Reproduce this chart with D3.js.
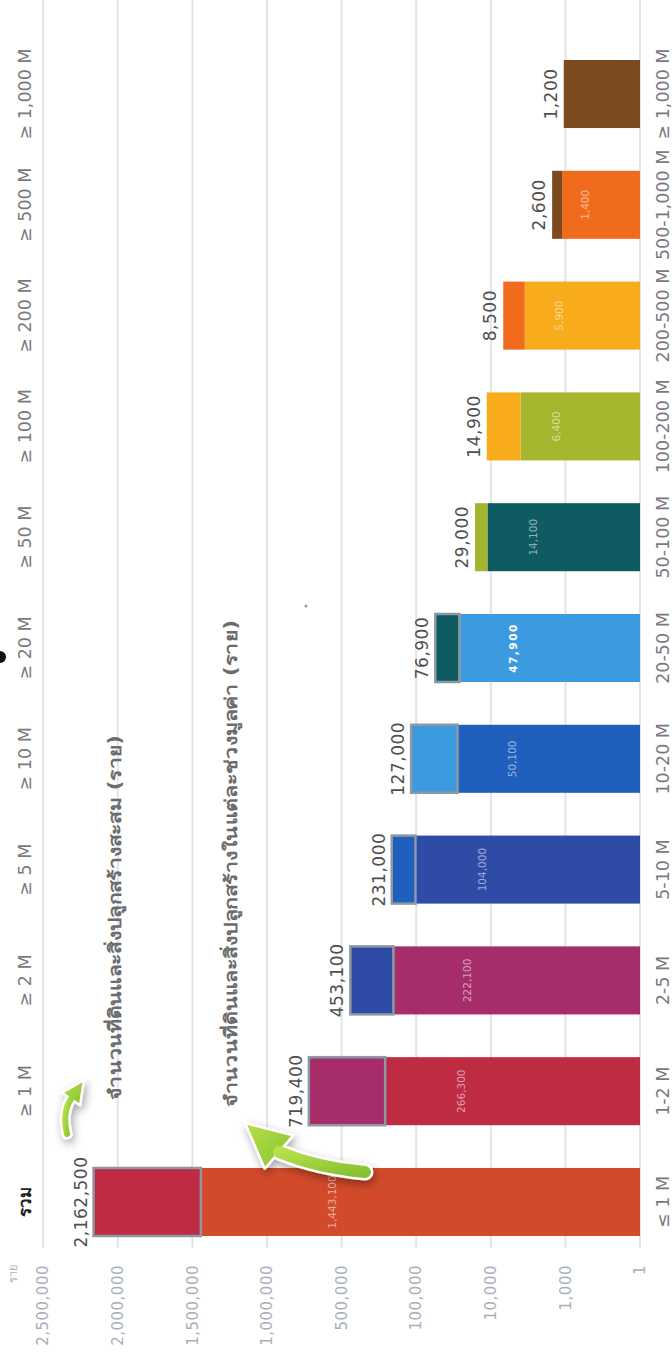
<!DOCTYPE html>
<html>
<head>
<meta charset="utf-8">
<script src="https://cdn.jsdelivr.net/npm/d3@7/dist/d3.min.js"></script>
<style>
  body { margin: 0; background: #fff; }
  svg { display: block; font-family: "DejaVu Sans", "Noto Sans", sans-serif; }
</style>
</head>
<body>
<svg id="chart"></svg>
<script>
// Land & buildings by value band - drawn as a landscape chart, then turned on its side

const cumLabels = ['รวม', '≥ 1 M', '≥ 2 M', '≥ 5 M', '≥ 10 M', '≥ 20 M', '≥ 50 M', '≥ 100 M', '≥ 200 M', '≥ 500 M', '≥ 1,000 M'];
const rangeLabels = ['≤ 1 M', '1-2 M', '2-5 M', '5-10 M', '10-20 M', '20-50 M', '50-100 M', '100-200 M', '200-500 M', '500-1,000 M', '≥ 1,000 M'];
const rangeCounts = [1443100, 266300, 222100, 104000, 50100, 47900, 14100, 6400, 5900, 1400, 1200];
const cumTotals = [2162500, 719400, 453100, 231000, 127000, 76900, 29000, 14900, 8500, 2600, 1200];
const bandColors = ['#d24a2a', '#be2b43', '#a62d6a', '#2e4ba6', '#1f60be', '#3c9be0', '#0e5c61', '#a6b52e', '#f8ac1b', '#f06b1d', '#7b4a1f'];
const tickValues = [1, 1000, 10000, 100000, 500000, 1000000, 1500000, 2000000, 2500000];
const tickLabels = ['1', '1,000', '10,000', '100,000', '500,000', '1,000,000', '1,500,000', '2,000,000', '2,500,000'];
const unitLabel = 'ราย';
const noteCum = 'จำนวนที่ดินและสิ่งปลูกสร้างสะสม (ราย)';
const noteRange = 'จำนวนที่ดินและสิ่งปลูกสร้างในแต่ละช่วงมูลค่า (ราย)';

const W = 672, H = 1372;          // page
const IW = H, IH = W;             // inner (landscape) frame

const svg = d3.select('#chart').attr('width', W).attr('height', H);

// the chart is built landscape and rotated so text reads bottom-to-top
const g = svg.append('g').attr('transform', `translate(0,${H}) rotate(-90)`);

const x = d3.scaleBand()
    .domain(rangeLabels)
    .range([136, 1312])
    .paddingInner(0.386)
    .paddingOuter(0);

// piecewise axis: ticks evenly spaced
const y = d3.scaleLinear()
    .domain(tickValues)
    .range(tickValues.map((d, i) => 640 - i * 74.6));

const fmt = d3.format(',');

const rows = rangeLabels.map((r, i) => ({
    range: r,
    cum: cumLabels[i],
    count: rangeCounts[i],
    total: cumTotals[i],
    color: bandColors[i],
    topColor: i < bandColors.length - 1 ? bandColors[i + 1] : null,
    i: i
}));

// gridlines
g.append('g')
    .selectAll('line')
    .data(tickValues)
    .join('line')
    .attr('x1', 124)
    .attr('x2', IW)
    .attr('y1', d => y(d))
    .attr('y2', d => y(d))
    .attr('stroke', '#e4e4e8')
    .attr('stroke-width', 2);

// tick labels
g.append('g')
    .selectAll('text')
    .data(tickValues)
    .join('text')
    .attr('x', 107)
    .attr('y', d => y(d))
    .attr('dy', '0.35em')
    .attr('text-anchor', 'end')
    .attr('font-size', 15)
    .attr('letter-spacing', 0.5)
    .attr('fill', '#a9aeb8')
    .text((d, i) => tickLabels[i]);

g.append('text')
    .attr('x', 107)
    .attr('y', 13)
    .attr('dy', '0.35em')
    .attr('text-anchor', 'end')
    .attr('font-size', 11)
    .attr('fill', '#a9aeb8')
    .text(unitLabel);

// bars
const bar = g.append('g')
    .selectAll('g')
    .data(rows)
    .join('g');

bar.append('rect')
    .attr('x', d => x(d.range))
    .attr('width', x.bandwidth())
    .attr('y', d => y(d.count))
    .attr('height', d => y(1) - y(d.count))
    .attr('fill', d => d.color);

bar.filter(d => d.topColor)
    .append('rect')
    .attr('x', d => x(d.range))
    .attr('width', x.bandwidth())
    .attr('y', d => y(d.total))
    .attr('height', d => y(d.count) - y(d.total))
    .attr('fill', d => d.topColor)
    .attr('stroke', d => d.total - d.count >= 20000 ? '#8e98a3' : 'none')
    .attr('stroke-width', 2.5);

// value inside the band segment
bar.filter(d => d.topColor)
    .append('text')
    .attr('x', d => x(d.range) + x.bandwidth() / 2)
    .attr('y', d => y(d.count) + (y(1) - y(d.count)) * 0.3)
    .attr('dy', '0.35em')
    .attr('text-anchor', 'middle')
    .attr('font-size', 10.5)
    .attr('fill', '#fff')
    .attr('fill-opacity', d => d.i === 5 ? 1 : 0.55)
    .attr('font-weight', d => d.i === 5 ? 'bold' : 'normal')
    .attr('letter-spacing', d => d.i === 5 ? 1.5 : 0)
    .text(d => fmt(d.count));

// cumulative total above the bar
bar.append('text')
    .attr('x', d => x(d.range) + x.bandwidth() / 2)
    .attr('y', d => y(d.total) - 7)
    .attr('text-anchor', 'middle')
    .attr('font-size', 17)
    .attr('letter-spacing', 0.5)
    .attr('fill', '#4f4f4f')
    .text(d => fmt(d.total));

// category labels: cumulative on top, band range below
g.append('g')
    .selectAll('text')
    .data(rows)
    .join('text')
    .attr('x', d => x(d.range) + x.bandwidth() / 2)
    .attr('y', 31)
    .attr('text-anchor', 'middle')
    .attr('font-size', d => d.i === 0 ? 17 : 17.5)
    .attr('font-weight', d => d.i === 0 ? 'bold' : 'normal')
    .attr('fill', d => d.i === 0 ? '#1e1e1e' : '#7d7880')
    .text(d => d.cum);

g.append('g')
    .selectAll('text')
    .data(rows)
    .join('text')
    .attr('x', d => x(d.range) + x.bandwidth() / 2)
    .attr('y', 669)
    .attr('text-anchor', 'middle')
    .attr('font-size', 17.5)
    .attr('fill', '#7d7880')
    .text(d => d.range);

// notes
g.append('text')
    .attr('x', 272)
    .attr('y', 121)
    .attr('font-size', 17)
    .attr('font-weight', 'bold')
    .attr('fill', '#6c6c6c')
    .attr('textLength', 365)
    .attr('lengthAdjust', 'spacingAndGlyphs')
    .text(noteCum);

g.append('text')
    .attr('x', 265)
    .attr('y', 237)
    .attr('font-size', 17)
    .attr('font-weight', 'bold')
    .attr('fill', '#6c6c6c')
    .attr('textLength', 487)
    .attr('lengthAdjust', 'spacingAndGlyphs')
    .text(noteRange);

// green call-out arrows (page coordinates)
const defs = svg.append('defs');
const f = defs.append('filter').attr('id', 'glow').attr('x', '-50%').attr('y', '-50%').attr('width', '200%').attr('height', '200%');
f.append('feDropShadow').attr('dx', 2).attr('dy', 4).attr('stdDeviation', 4).attr('flood-color', '#000').attr('flood-opacity', 0.35);
const grad = defs.append('linearGradient').attr('id', 'green').attr('x1', 0).attr('y1', 0).attr('x2', 1).attr('y2', 1);
grad.append('stop').attr('offset', 0).attr('stop-color', '#b7e04a');
grad.append('stop').attr('offset', 1).attr('stop-color', '#86c232');

const arrows = svg.append('g');

function arrow(tail, ctrl, neck, tip, half, shaft) {
    const p = d3.path();
    p.moveTo(tail[0], tail[1]);
    p.quadraticCurveTo(ctrl[0], ctrl[1], neck[0], neck[1]);
    const dx = tip[0] - neck[0], dy = tip[1] - neck[1];
    const len = Math.hypot(dx, dy);
    const nx = -dy / len * half, ny = dx / len * half;
    const grp = arrows.append('g').attr('filter', 'url(#glow)');
    grp.append('path').attr('d', p.toString())
        .attr('fill', 'none').attr('stroke', '#fff').attr('stroke-width', shaft + 5).attr('stroke-linecap', 'round');
    grp.append('path').attr('d', `M${neck[0] + nx},${neck[1] + ny}L${tip[0]},${tip[1]}L${neck[0] - nx},${neck[1] - ny}Z`)
        .attr('fill', 'url(#green)').attr('stroke', '#fff').attr('stroke-width', 2.5).attr('stroke-linejoin', 'round');
    grp.append('path').attr('d', p.toString())
        .attr('fill', 'none').attr('stroke', 'url(#green)').attr('stroke-width', shaft).attr('stroke-linecap', 'round');
}

arrow([365, 1172], [318, 1168], [279, 1152], [245, 1123], 22, 12);
arrow([67, 1134], [62, 1112], [71, 1099], [84, 1080], 11, 6);

// stray marks in the scan
svg.append('circle').attr('cx', 0).attr('cy', 657).attr('r', 6).attr('fill', '#111');
svg.append('circle').attr('cx', 306).attr('cy', 606).attr('r', 1.5).attr('fill', '#999');
</script>
</body>
</html>
